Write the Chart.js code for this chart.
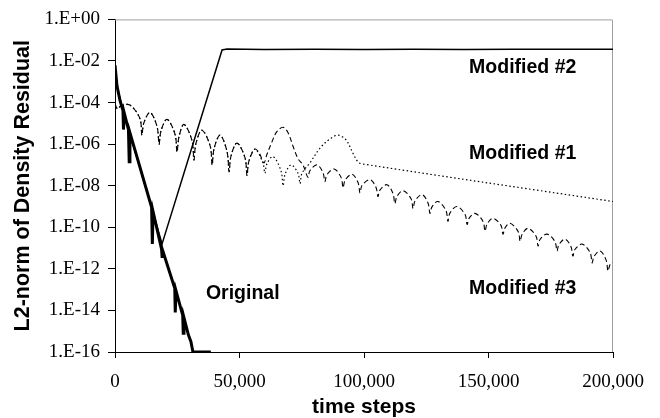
<!DOCTYPE html>
<html>
<head>
<meta charset="utf-8">
<script src="https://cdn.jsdelivr.net/npm/chart.js@4.4.1/dist/chart.umd.min.js"></script>
<style>
  body { margin: 0; background: #fff; }
  canvas { display: block; }
</style>
</head>
<body>
<canvas id="myChart" width="660" height="418"></canvas>
<script>
// residual histories: [thousands of time steps, log10 of L2-norm]
var originalPts = [
    [0, -2.2], [0.8, -3.2], [2.0, -3.9], [3.2, -4.38], [3.4, -5.3], [3.7, -4.5],
    [5.4, -5.3], [5.7, -6.85], [6.0, -5.45], [14.7, -9.04], [15.0, -10.8], [15.3, -9.25],
    [18.7, -11.05], [18.9, -11.4], [19.1, -11.1], [24.0, -12.93], [24.2, -14.1], [24.5, -13.05],
    [27.2, -14.24], [27.4, -15.1], [27.7, -14.35], [29.5, -15.19], [30.5, -15.5], [31.3, -16],
    [38.5, -16]
];

var modified2Pts = [
    [0, -2.2], [0.8, -3.2], [3.2, -4.38], [14.7, -9.04], [18.9, -10.8], [43.0, -1.47],
    [45, -1.42], [60, -1.45], [80, -1.43], [100, -1.45], [120, -1.43], [140, -1.45],
    [160, -1.43], [180, -1.44], [200, -1.43]
];

// #1 and #3 run together for the first ~56,000 steps
var sharedArches = [
    [0, -4.05], [1.0, -4.3], [2.5, -4.15], [6.0, -4.12],
    [10.0, -4.77], [10.8, -5.57], [11.6, -4.97], [14.1, -4.48],
    [16.9, -5.16], [17.7, -6.0], [18.5, -5.35], [20.9, -4.81],
    [24.1, -5.52], [24.9, -6.38], [25.7, -5.65], [27.7, -5.05],
    [30.9, -5.82], [31.7, -6.76], [32.5, -5.97], [34.9, -5.33],
    [38.2, -6.08], [39.0, -7.0], [39.8, -6.21], [42.2, -5.57],
    [45.0, -6.36], [45.8, -7.33], [46.6, -6.57], [49.0, -5.95],
    [52.2, -6.65], [53.0, -7.5], [53.8, -6.81], [56.2, -6.24]
];

var modified1Tail = [
    [59.4, -6.9], [60.2, -7.4], [61.0, -6.95], [63.5, -6.6], [66.7, -7.3], [67.5, -8.0],
    [68.3, -7.45], [70.7, -7.0], [73.5, -7.4], [74.3, -7.9], [75.1, -7.4], [78.3, -6.9],
    [82.3, -6.2], [86.3, -5.75], [89.6, -5.57], [92.8, -5.8], [95.6, -6.45], [97.6, -6.86],
    [99.2, -6.95], [200, -8.76]
];

var modified3Tail = [
    [58.0, -6.45], [59.8, -6.9], [61.0, -6.5], [63.0, -5.9], [65.0, -5.4], [67.5, -5.19],
    [69.5, -5.45], [71.5, -6.1], [73.5, -6.7], [75.5, -7.0], [77.5, -7.6], [78.3, -7.27], [81.1, -7.0],
    [83.5, -7.36], [84.3, -7.8], [85.1, -7.47], [88.0, -7.2],
    [90.8, -7.6], [91.6, -8.1], [92.4, -7.74], [95.2, -7.45],
    [97.6, -7.85], [98.4, -8.35], [99.2, -7.99], [102.4, -7.71],
    [104.8, -8.07], [105.6, -8.52], [106.4, -8.21], [109.2, -7.95],
    [111.6, -8.36], [112.4, -8.86], [113.2, -8.52], [115.7, -8.24],
    [118.9, -8.63], [119.7, -9.10], [120.5, -8.73], [123.3, -8.43],
    [125.7, -8.83], [126.5, -9.33], [127.3, -9.02], [129.7, -8.76],
    [132.9, -9.19], [133.7, -9.71], [134.5, -9.32], [137.3, -9.0],
    [140.6, -9.39], [141.4, -9.86], [142.2, -9.57], [144.6, -9.33],
    [147.8, -9.72], [148.6, -10.19], [149.4, -9.85], [151.8, -9.57],
    [155.0, -9.91], [155.8, -10.33], [156.6, -10.04], [158.6, -9.81],
    [161.9, -10.2], [162.7, -10.67], [163.5, -10.33], [165.9, -10.05],
    [169.1, -10.43], [169.9, -10.9], [170.7, -10.59], [173.5, -10.33],
    [176.7, -10.69], [177.5, -11.14], [178.3, -10.83], [180.7, -10.57],
    [183.1, -10.93], [183.9, -11.38], [184.7, -11.07], [187.6, -10.81],
    [190.8, -11.21], [191.6, -11.71], [192.4, -11.4], [194.8, -11.14],
    [197.2, -11.57], [198.0, -12.1], [198.8, -11.8], [200, -11.7]
];

var yTickExps = [0, -2, -4, -6, -8, -10, -12, -14, -16];

// curve names, placed in data units (thousand steps, log10)
var curveLabels = [
    { text: 'Modified #2', x: 142.2, y: -2.33 },
    { text: 'Modified #1', x: 142.2, y: -6.48 },
    { text: 'Modified #3', x: 142.2, y: -12.95 },
    { text: 'Original', x: 36.5, y: -13.19 }
];

function toXY(pts) {
    return pts.map(function (p) { return { x: p[0] * 1000, y: Math.pow(10, p[1]) }; });
}

var serif = '"Liberation Serif", "Times New Roman", serif';
var sans = '"Liberation Sans", Arial, sans-serif';

var framePlugin = {
    id: 'frame',
    beforeDatasetsDraw: function (chart) {
        var ctx = chart.ctx, a = chart.chartArea;
        ctx.save();
        ctx.strokeStyle = '#a0a0a0';
        ctx.lineWidth = 1;
        ctx.beginPath();
        ctx.moveTo(a.left, a.top + 0.5);
        ctx.lineTo(a.right - 0.5, a.top + 0.5);
        ctx.lineTo(a.right - 0.5, a.bottom);
        ctx.stroke();
        ctx.restore();
    },
    afterDraw: function (chart) {
        var ctx = chart.ctx;
        ctx.save();
        ctx.fillStyle = '#000';
        ctx.font = 'bold 19.5px ' + sans;
        ctx.textBaseline = 'middle';
        curveLabels.forEach(function (l) {
            ctx.fillText(l.text, chart.scales.x.getPixelForValue(l.x * 1000),
                chart.scales.y.getPixelForValue(Math.pow(10, l.y)));
        });
        ctx.restore();
    }
};

window.onload = function () {
    Chart.defaults.color = '#000';
    var ctx = document.getElementById('myChart').getContext('2d');
    window.myChart = new Chart(ctx, {
        type: 'line',
        data: {
            datasets: [{
                label: 'Modified #3',
                data: toXY(sharedArches.concat(modified3Tail)),
                borderColor: '#000',
                borderWidth: 1.1,
                borderDash: [5, 3],
                tension: 0.35
            }, {
                label: 'Modified #1',
                data: toXY(sharedArches.concat(modified1Tail)),
                borderColor: '#000',
                borderWidth: 1.2,
                borderDash: [1.5, 2.5],
                tension: 0.35
            }, {
                label: 'Modified #2',
                data: toXY(modified2Pts),
                borderColor: '#000',
                borderWidth: 1.5,
                tension: 0
            }, {
                label: 'Original',
                data: toXY(originalPts),
                borderColor: '#000',
                borderWidth: 3,
                tension: 0
            }]
        },
        options: {
            responsive: false,
            animation: false,
            elements: { point: { radius: 0 } },
            layout: { padding: { top: 16, right: 47, left: 0, bottom: 0 } },
            plugins: {
                legend: { display: false },
                tooltip: { enabled: false }
            },
            scales: {
                x: {
                    type: 'linear',
                    min: 0,
                    max: 200000,
                    afterFit: function (s) { s.height = 66; },
                    border: { color: '#000', width: 1 },
                    grid: { drawOnChartArea: false, color: '#000', tickLength: 6 },
                    ticks: {
                        stepSize: 50000,
                        maxRotation: 0,
                        padding: 13,
                        font: { family: serif, size: 19 },
                        callback: function (v) { return v.toLocaleString('en-US'); }
                    },
                    title: {
                        display: true,
                        text: 'time steps',
                        font: { family: sans, size: 21, weight: 'bold', lineHeight: 1 },
                        padding: 0
                    }
                },
                y: {
                    type: 'logarithmic',
                    min: 1e-16,
                    max: 1,
                    afterFit: function (s) { s.width = 115; },
                    afterBuildTicks: function (s) {
                        s.ticks = yTickExps.map(function (e) { return { value: Math.pow(10, e) }; });
                    },
                    border: { color: '#000', width: 1 },
                    grid: { drawOnChartArea: false, color: '#000', tickLength: 7 },
                    ticks: {
                        padding: 8,
                        font: { family: serif, size: 19 },
                        callback: function (v) {
                            var e = Math.round(Math.log10(v));
                            var a = Math.abs(e);
                            return '1.E' + (e < 0 ? '-' : '+') + (a < 10 ? '0' : '') + a;
                        }
                    },
                    title: {
                        display: true,
                        text: 'L2-norm of Density Residual',
                        font: { family: sans, size: 21.5, weight: 'bold', lineHeight: 1 },
                        padding: { top: 12, bottom: 0 }
                    }
                }
            }
        },
        plugins: [framePlugin]
    });
};
</script>
</body>
</html>
